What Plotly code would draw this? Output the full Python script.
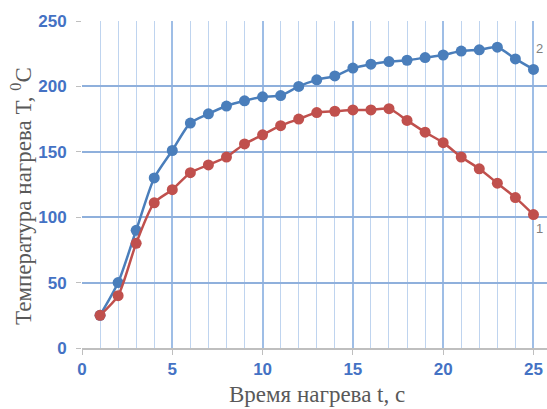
import plotly.graph_objects as go

t = list(range(1, 26))
series2 = [25, 50, 90, 130, 151, 172, 179, 185, 189, 192, 193, 200, 205, 208, 214,
           217, 219, 220, 222, 224, 227, 228, 230, 221, 213]
series1 = [25, 40, 80, 111, 121, 134, 140, 146, 156, 163, 170, 175, 180, 181, 182,
           182, 183, 174, 165, 157, 146, 137, 126, 115, 102]
x_ticks = [0, 5, 10, 15, 20, 25]
y_ticks = [0, 50, 100, 150, 200, 250]

blue = "#4A7EBB"
red = "#C0504D"
tick_col = "#4472C4"
title_font = dict(family="Liberation Serif", size=23, color="#595959")

fig = go.Figure()
fig.add_trace(go.Scatter(x=t, y=series2, mode="lines+markers",
                         line=dict(color=blue, width=2.5, shape="spline", smoothing=0.7),
                         marker=dict(color=blue, size=11), name="2", cliponaxis=False))
fig.add_trace(go.Scatter(x=t, y=series1, mode="lines+markers",
                         line=dict(color=red, width=2.5, shape="spline", smoothing=0.7),
                         marker=dict(color=red, size=11), name="1", cliponaxis=False))

fig.add_annotation(x=t[-1], y=series2[-1], text="2", showarrow=False, xanchor="left",
                   xshift=1, yshift=21, font=dict(family="Liberation Sans", size=13, color="#7F7F7F"))
fig.add_annotation(x=t[-1], y=series1[-1], text="1", showarrow=False, xanchor="left",
                   xshift=1, yshift=-14, font=dict(family="Liberation Sans", size=13, color="#7F7F7F"))

# axis titles
fig.add_annotation(xref="paper", yref="paper", x=0, y=0.465, xshift=-60, textangle=-90,
                   text="Температура нагрева T, <sup>0</sup>C", showarrow=False,
                   xanchor="center", yanchor="middle", font=title_font)
fig.add_annotation(xref="paper", yref="paper", x=0.505, y=0, yshift=-46,
                   text="Время нагрева t, с", showarrow=False,
                   xanchor="center", yanchor="middle", font=title_font)

fig.update_layout(
    width=547, height=409,
    margin=dict(l=82, r=0, t=21, b=61),
    paper_bgcolor="white", plot_bgcolor="white",
    showlegend=False,
    xaxis=dict(range=[0, 25.75], tickvals=x_ticks, showgrid=True, gridcolor="#9FBEE6", gridwidth=1.5,
               minor=dict(dtick=1, tick0=0, showgrid=True, gridcolor="#BFD4EF", gridwidth=1),
               zeroline=False, showline=True, linecolor="#BFBFBF", linewidth=1.5,
               ticks="outside", ticklen=5, tickcolor="#BFBFBF", automargin=False,
               tickfont=dict(family="Liberation Sans", size=17, color=tick_col, weight="bold")),
    yaxis=dict(range=[0, 250], tickvals=y_ticks, showgrid=True, gridcolor="#8FB0DC", gridwidth=1.5,
               zeroline=False, showline=False, automargin=False,
               ticks="outside", ticklen=5, tickcolor="#BFBFBF",
               ticklabelstandoff=6,
               tickfont=dict(family="Liberation Sans", size=17, color=tick_col, weight="bold")),
)

fig.write_html("out.html", post_script="document.body.style.margin='0';",
               config={"displayModeBar": False})
